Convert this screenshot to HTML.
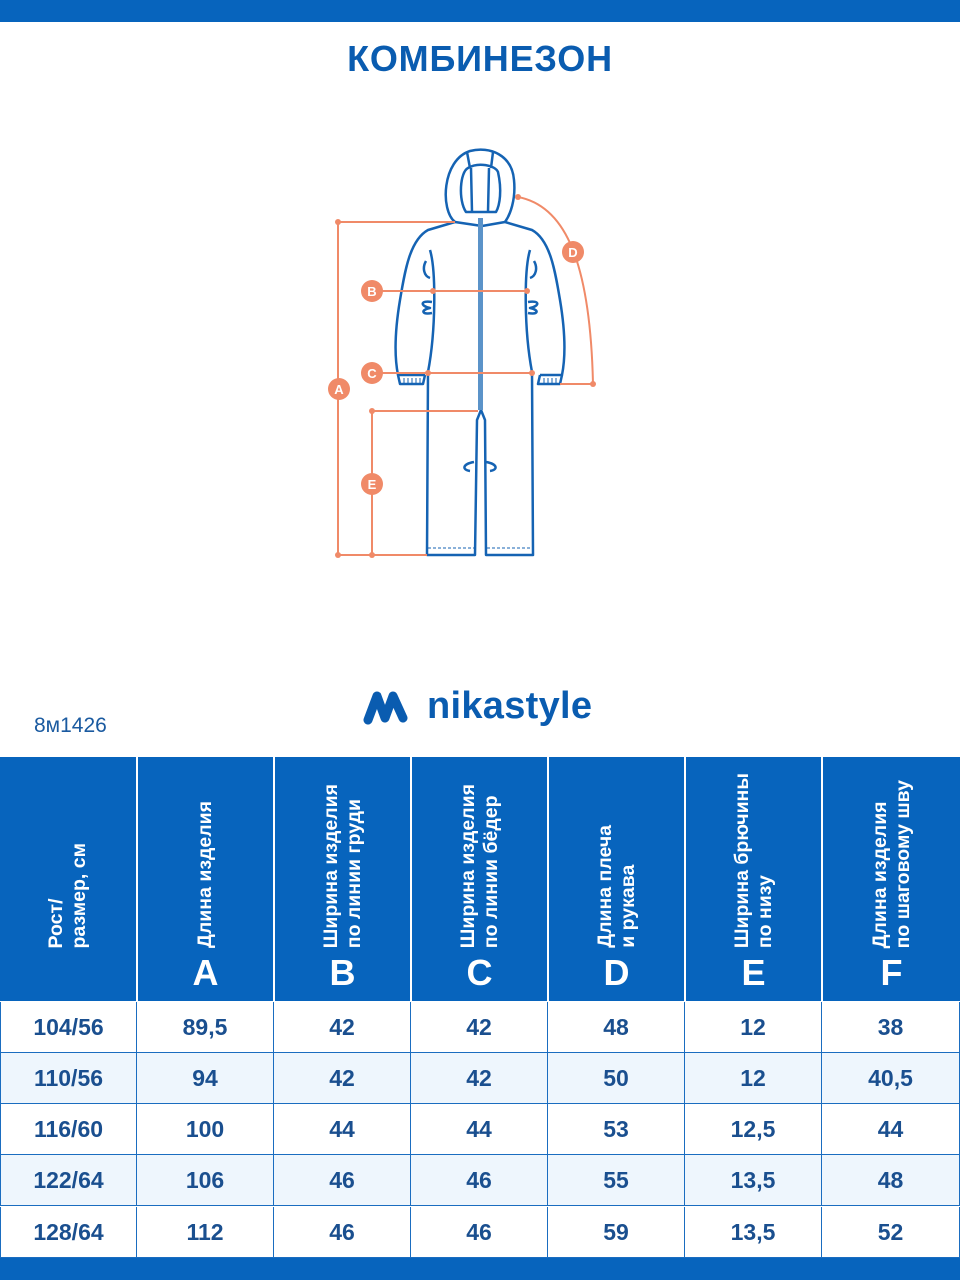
<!DOCTYPE html>
<html><head><meta charset="utf-8"><style>
*{margin:0;padding:0;box-sizing:border-box}
body{width:960px;height:1280px;background:#fff;position:relative;overflow:hidden;font-family:"Liberation Sans","DejaVu Sans",sans-serif}
.bar{position:absolute;left:0;width:960px;background:#0764bd}
.title{position:absolute;top:38px;left:0;width:960px;text-align:center;color:#0a5cb0;font-weight:bold;font-size:36px;letter-spacing:0.8px}
.code{position:absolute;left:34px;top:714px;color:#1a5aa0;font-size:21px}
.logo{position:absolute;left:363px;top:688px;height:44px}
.logo span{position:absolute;left:64px;top:-3px;color:#0a5cb0;font-size:38px;font-weight:bold;letter-spacing:0.3px}
.hc{position:absolute;top:757px;height:244px;background:#0764bd}
.rt{position:absolute;bottom:53px;left:0;width:100%;display:flex;justify-content:center}
.rt div{writing-mode:vertical-rl;transform:rotate(180deg);color:#fff;font-weight:bold;font-size:19.5px;line-height:23px;white-space:nowrap}
.lt{position:absolute;bottom:7px;width:100%;text-align:center;color:#fff;font-weight:bold;font-size:36px}
.cell{position:absolute;height:51px;border-right:1px solid #1a6dc0;border-bottom:1px solid #1a6dc0;text-align:center;line-height:50px;color:#1a4f8f;font-weight:bold;font-size:23px}
</style></head><body>
<div class="bar" style="top:0;height:22px"></div>
<div class="bar" style="top:1258px;height:22px"></div>
<div class="title">КОМБИНЕЗОН</div>

<svg style="position:absolute;left:0;top:0" width="960" height="600">
<g fill="none" stroke="#1563b3" stroke-width="2.5" stroke-linejoin="round">
<path d="M455,222 C440,210 442,160 470,151 C490,146 512,155 514,180 C516,200 510,215 505,222"/>
<path d="M466,212 C458,200 460,172 468,168 C478,162 495,165 498,172 C502,190 500,205 496,212 Z"/>
<path d="M467,152 L470,168 M493,152 L491,168 M471,168 L472,212 M489,168 L488,212"/>
<path d="M455,222 L482,226 L505,222 L532,230 C550,240 555,270 560,300 C565,330 566,355 562,375 L540,375"/>
<path d="M455,222 L428,230 C410,240 405,270 400,300 C395,330 394,355 398,375 L425,375"/>
<path d="M398,375 L400,384 L423,384 L425,375 M540,375 L538,384 L560,384 L562,375"/>
<path d="M430,250 C436,270 436,330 428,372 L427,555 L475,555 L477,420 L481,410 L485,420 L486,555 L533,555 L532,372 C524,330 524,270 530,250"/>
<path d="M426,261 C422,268 424,276 430,278 M534,261 C538,268 536,276 530,278"/>
<path d="M432,302 C420,300 420,306 430,308 C420,310 422,315 432,313 M528,302 C540,300 540,306 530,308 C540,310 538,315 528,313"/>
<path d="M474,462 C462,464 462,470 470,471 M486,462 C498,464 498,470 490,471"/>
</g>
<path d="M404,378v5M408,378v5M412,378v5M416,378v5M420,378v5M544,378v5M548,378v5M552,378v5M556,378v5" stroke="#1563b3" stroke-width="1"/>
<path d="M428,548h46M487,548h45" stroke="#1563b3" stroke-width="1" stroke-dasharray="3,2"/>
<rect x="478" y="218" width="5" height="192" fill="#5b93c9"/>
<g stroke="#f08a68" stroke-width="2" fill="none">
<path d="M338,222H455M338,222V555H427M372,411H478M372,411V555M372,291H527M372,373H532M518,197C560,205 590,250 593,384H560"/>
</g>
<g fill="#f08a68">
<circle cx="338" cy="222" r="3"/><circle cx="338" cy="555" r="3"/><circle cx="372" cy="555" r="3"/><circle cx="372" cy="411" r="3"/>
<circle cx="433" cy="291" r="3"/><circle cx="527" cy="291" r="3"/><circle cx="428" cy="373" r="3"/><circle cx="532" cy="373" r="3"/>
<circle cx="518" cy="197" r="3"/><circle cx="593" cy="384" r="3"/>
<circle cx="339" cy="389" r="11"/><circle cx="372" cy="291" r="11"/><circle cx="372" cy="373" r="11"/><circle cx="372" cy="484" r="11"/><circle cx="573" cy="252" r="11"/>
</g>
<g fill="#fff" font-family="Liberation Sans" font-weight="bold" font-size="13" text-anchor="middle">
<text x="339" y="394">A</text><text x="372" y="296">B</text><text x="372" y="378">C</text><text x="372" y="489">E</text><text x="573" y="257">D</text>
</g>
</svg>

<div class="logo"><svg width="50" height="44" viewBox="0 0 50 44"><path d="M5,32 L14,8 L22,30 L30,8 L40,30" fill="none" stroke="#0a5cb0" stroke-width="9" stroke-linecap="round" stroke-linejoin="round"/></svg><span>nikastyle</span></div>
<div class="code">8м1426</div>

<div class="hc" style="left:0;width:136px"><div class="rt"><div>Рост/<br>размер, см</div></div></div>
<div class="hc" style="left:138px;width:135px"><div class="rt"><div>Длина изделия</div></div><div class="lt">A</div></div>
<div class="hc" style="left:275px;width:135px"><div class="rt"><div>Ширина изделия<br>по линии груди</div></div><div class="lt">B</div></div>
<div class="hc" style="left:412px;width:135px"><div class="rt"><div>Ширина изделия<br>по линии бёдер</div></div><div class="lt">C</div></div>
<div class="hc" style="left:549px;width:135px"><div class="rt"><div>Длина плеча<br>и рукава</div></div><div class="lt">D</div></div>
<div class="hc" style="left:686px;width:135px"><div class="rt"><div>Ширина брючины<br>по низу</div></div><div class="lt">E</div></div>
<div class="hc" style="left:823px;width:137px"><div class="rt"><div>Длина изделия<br>по шаговому шву</div></div><div class="lt">F</div></div>

<div id="rows"></div>
<script>
var d=[["104/56","89,5","42","42","48","12","38"],["110/56","94","42","42","50","12","40,5"],["116/60","100","44","44","53","12,5","44"],["122/64","106","46","46","55","13,5","48"],["128/64","112","46","46","59","13,5","52"]];
var ys=[1002,1053,1104,1155,1207];var xs=[0,137,274,411,548,685,822,960];var h="";
d.forEach(function(r,i){r.forEach(function(v,j){h+='<div class="cell" style="top:'+ys[i]+'px;left:'+xs[j]+'px;width:'+(xs[j+1]-xs[j])+'px;background:'+(i%2?'#eef6fd':'#fff')+';border-left:'+(j==0?'1px solid #1a6dc0':'0')+'">'+v+'</div>';});});
document.getElementById("rows").innerHTML=h;
</script>
</body></html>
